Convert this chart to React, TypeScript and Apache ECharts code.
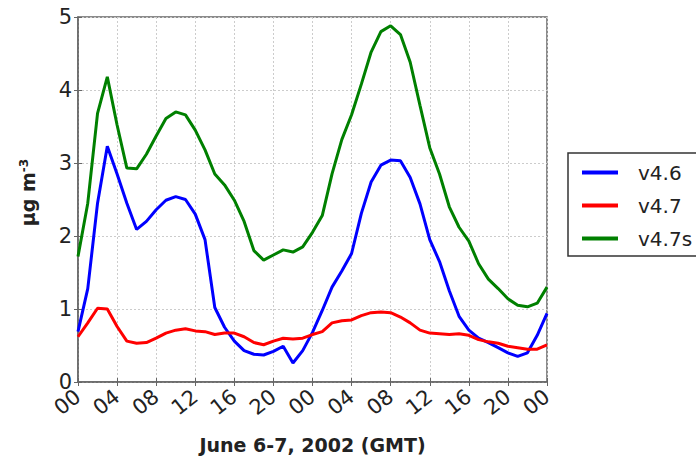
import React, { useEffect, useRef } from "react";
import * as echarts from "echarts";

const tickLabels = ["00", "04", "08", "12", "16", "20", "00", "04", "08", "12", "16", "20", "00"];

// hourly values, hours 0..48
const v46 = [
  0.69, 1.28, 2.45, 3.23, 2.85, 2.45, 2.09, 2.20, 2.36, 2.49, 2.54, 2.50, 2.30, 1.95, 1.02, 0.75,
  0.56, 0.43, 0.38, 0.37, 0.42, 0.49, 0.26, 0.43, 0.68, 0.98, 1.30, 1.52, 1.76, 2.31, 2.74, 2.97,
  3.04, 3.03, 2.80, 2.44, 1.95, 1.65, 1.25, 0.90, 0.71, 0.60, 0.54, 0.47, 0.40, 0.35, 0.40, 0.64,
  0.94,
];
const v47 = [
  0.62, 0.81, 1.01, 1.00, 0.76, 0.56, 0.53, 0.54, 0.60, 0.67, 0.71, 0.73, 0.70, 0.69, 0.65, 0.67,
  0.67, 0.62, 0.54, 0.51, 0.56, 0.60, 0.59, 0.60, 0.65, 0.69, 0.81, 0.84, 0.85, 0.91, 0.95, 0.96,
  0.95, 0.89, 0.81, 0.71, 0.67, 0.66, 0.65, 0.66, 0.64, 0.58, 0.55, 0.53, 0.49, 0.47, 0.45, 0.45,
  0.51,
];
const v47s = [
  1.72, 2.45, 3.68, 4.18, 3.52, 2.93, 2.92, 3.12, 3.37, 3.61, 3.70, 3.66, 3.45, 3.18, 2.85, 2.70,
  2.49, 2.20, 1.80, 1.67, 1.74, 1.81, 1.78, 1.85, 2.05, 2.28, 2.85, 3.32, 3.66, 4.08, 4.52, 4.80,
  4.88, 4.76, 4.38, 3.79, 3.21, 2.85, 2.40, 2.12, 1.93, 1.62, 1.41, 1.28, 1.14, 1.05, 1.03, 1.08,
  1.30,
];

const seriesNames = ["v4.6", "v4.7", "v4.7s"];
const seriesColors = ["#0000ff", "#ff0000", "#008000"];
const seriesValues = [v46, v47, v47s];

export default function App() {
  const ref = useRef<HTMLDivElement>(null);
  useEffect(() => {
    if (!ref.current) return;
    const chart = echarts.init(ref.current, undefined, { renderer: "svg" });
    const gridLine = { show: true, lineStyle: { color: "#cccccc", type: [2, 2] as any, width: 1 } };
    chart.setOption({
      animation: false,
      backgroundColor: "#ffffff",
      grid: { left: 78, right: 149, top: 17, bottom: 71, show: true, borderColor: "#666", borderWidth: 1.5 },
      legend: {
        orient: "vertical",
        left: 568,
        top: 153,
        padding: [9, 12, 7, 14],
        itemGap: 12,
        itemWidth: 36,
        itemHeight: 4,
        icon: "rect",
        borderColor: "#333",
        borderWidth: 1.5,
        borderRadius: 0,
        data: seriesNames,
        textStyle: {
          fontFamily: "DejaVu Sans",
          fontSize: 20,
          lineHeight: 21,
          color: "#222",
          padding: [0, 0, 0, 15],
        },
      },
      xAxis: [
        {
          type: "value",
          min: 0,
          max: 48,
          interval: 4,
          name: "June 6-7, 2002 (GMT)",
          nameLocation: "middle",
          nameGap: 53,
          nameTextStyle: { fontFamily: "DejaVu Sans", fontWeight: "bold", fontSize: 19, color: "#222" },
          axisLine: { show: true, lineStyle: { color: "#666", width: 1.5 } },
          axisTick: { show: true, inside: true, length: 4, lineStyle: { color: "#666" } },
          axisLabel: {
            rotate: 38,
            margin: 12,
            fontFamily: "DejaVu Sans",
            fontSize: 21,
            color: "#222",
            formatter: (v: number) => tickLabels[Math.round(v / 4)] ?? "",
          },
          splitLine: gridLine,
        },
        {
          type: "value",
          position: "top",
          min: 0,
          max: 48,
          interval: 4,
          axisLine: { show: false },
          axisTick: { show: true, inside: true, length: 4, lineStyle: { color: "#666" } },
          axisLabel: { show: false },
          splitLine: { show: false },
        },
      ],
      yAxis: [
        {
          type: "value",
          min: 0,
          max: 5,
          interval: 1,
          name: "{a|μg m}{b|-3}",
          nameLocation: "middle",
          nameGap: 40,
          nameRotate: 90,
          nameTextStyle: {
            padding: [0, 0, 0, 14],
            rich: {
              a: { fontFamily: "DejaVu Sans", fontWeight: "bold", fontSize: 19, color: "#222" },
              b: { fontFamily: "DejaVu Sans", fontWeight: "bold", fontSize: 12, color: "#222", verticalAlign: "top", padding: [0, 0, 8, 0] },
            },
          },
          axisLine: { show: true, lineStyle: { color: "#666", width: 1.5 } },
          axisTick: { show: true, inside: true, length: 4, lineStyle: { color: "#666" } },
          axisLabel: { margin: 6, fontFamily: "DejaVu Sans", fontSize: 21, color: "#222" },
          splitLine: gridLine,
        },
        {
          type: "value",
          position: "right",
          min: 0,
          max: 5,
          interval: 1,
          axisLine: { show: false },
          axisTick: { show: true, inside: true, length: 4, lineStyle: { color: "#666" } },
          axisLabel: { show: false },
          splitLine: { show: false },
        },
      ],
      series: seriesNames.map((name, i) => ({
        name,
        type: "line",
        data: seriesValues[i].map((v, h) => [h, v]),
        showSymbol: false,
        symbol: "none",
        lineStyle: { color: seriesColors[i], width: 3 },
        itemStyle: { color: seriesColors[i] },
        z: 3,
      })),
    });
    return () => chart.dispose();
  }, []);
  return <div ref={ref} style={{ position: "fixed", left: 0, top: 0, width: 696, height: 459 }} />;
}
